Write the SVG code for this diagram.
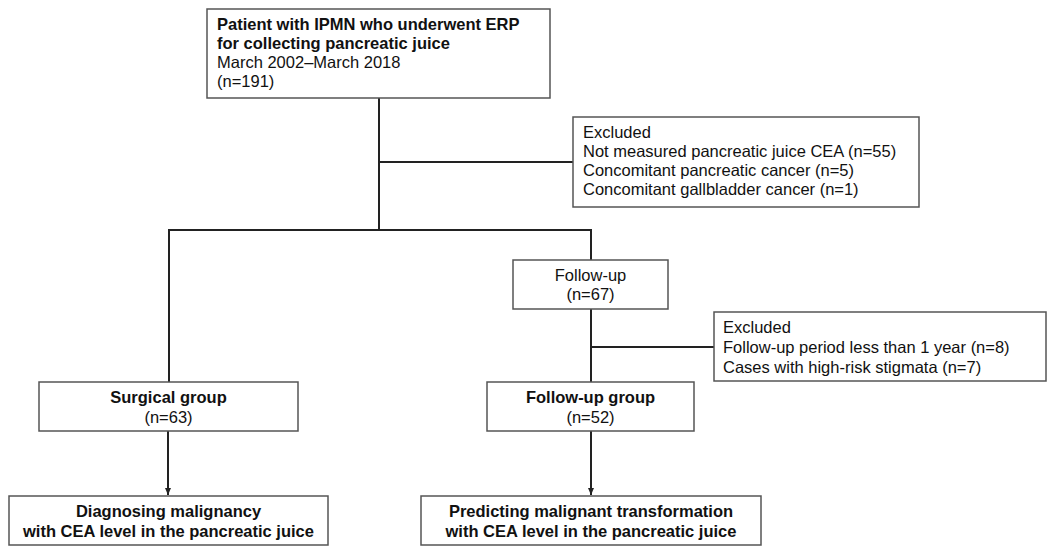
<svg xmlns="http://www.w3.org/2000/svg" width="1049" height="552" viewBox="0 0 1049 552">
<style>
.box{fill:#fff;stroke:#555;stroke-width:1.5}
.ln{stroke:#222;stroke-width:2;fill:none}
text{font-family:"Liberation Sans",Arial,sans-serif;font-size:16.5px;fill:#111}
.b{font-weight:bold}
.c{text-anchor:middle}
</style>
<defs>
<marker id="ah" markerWidth="8" markerHeight="8" refX="7" refY="4" orient="auto" markerUnits="userSpaceOnUse">
<path d="M0,1 L7,4 L0,7 Z" fill="#222"/>
</marker>
</defs>
<rect width="1049" height="552" fill="#fff"/>
<g id="connectors">
<line class="ln" x1="379" y1="98" x2="379" y2="230"/>
<line class="ln" x1="379" y1="162" x2="573" y2="162"/>
<line class="ln" x1="168" y1="230" x2="592" y2="230"/>
<line class="ln" x1="169" y1="229" x2="169" y2="382"/>
<line class="ln" x1="591" y1="229" x2="591" y2="260"/>
<line class="ln" x1="591" y1="309" x2="591" y2="382"/>
<line class="ln" x1="591" y1="347" x2="714" y2="347"/>
<line class="ln" x1="168" y1="431" x2="168" y2="495" marker-end="url(#ah)"/>
<line class="ln" x1="591" y1="431" x2="591" y2="495" marker-end="url(#ah)"/>
</g>
<g id="start">
<rect class="box" x="207" y="9" width="343" height="89"/>
<text class="b" x="217" y="30">Patient with IPMN who underwent ERP</text>
<text class="b" x="217" y="49">for collecting pancreatic juice</text>
<text x="217" y="68">March 2002–March 2018</text>
<text x="217" y="87">(n=191)</text>
</g>
<g id="excluded1">
<rect class="box" x="573" y="117" width="346" height="90"/>
<text x="583" y="138">Excluded</text>
<text x="583" y="157">Not measured pancreatic juice CEA (n=55)</text>
<text x="583" y="176">Concomitant pancreatic cancer (n=5)</text>
<text x="583" y="195">Concomitant gallbladder cancer (n=1)</text>
</g>
<g id="followup">
<rect class="box" x="513" y="260" width="155" height="49"/>
<text class="c" x="590.5" y="281">Follow-up</text>
<text class="c" x="590.5" y="300">(n=67)</text>
</g>
<g id="excluded2">
<rect class="box" x="714" y="312" width="332" height="69"/>
<text x="723" y="333">Excluded</text>
<text x="723" y="353">Follow-up period less than 1 year (n=8)</text>
<text x="723" y="373">Cases with high-risk stigmata (n=7)</text>
</g>
<g id="surgical">
<rect class="box" x="39" y="382" width="259" height="49"/>
<text class="c b" x="168.5" y="403">Surgical group</text>
<text class="c" x="168.5" y="423">(n=63)</text>
</g>
<g id="followupgroup">
<rect class="box" x="487" y="382" width="207" height="49"/>
<text class="c b" x="590.5" y="403">Follow-up group</text>
<text class="c" x="590.5" y="423">(n=52)</text>
</g>
<g id="diagnosing">
<rect class="box" x="9" y="496" width="319" height="49"/>
<text class="c b" x="168.5" y="517">Diagnosing malignancy</text>
<text class="c b" x="168.5" y="537">with CEA level in the pancreatic juice</text>
</g>
<g id="predicting">
<rect class="box" x="421" y="496" width="340" height="49"/>
<text class="c b" x="591" y="517">Predicting malignant transformation</text>
<text class="c b" x="591" y="537">with CEA level in the pancreatic juice</text>
</g>
</svg>
